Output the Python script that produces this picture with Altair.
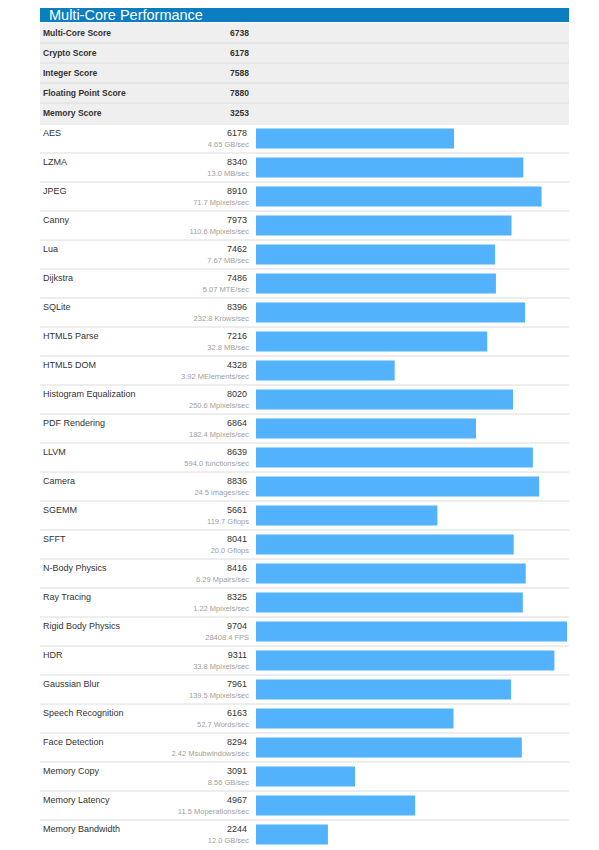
import altair as alt
import pandas as pd

TITLE = "Multi-Core Performance"

summary_names = ["Multi-Core Score", "Crypto Score", "Integer Score",
                 "Floating Point Score", "Memory Score"]
summary_scores = [6738, 6178, 7588, 7880, 3253]

bench_names = ["AES", "LZMA", "JPEG", "Canny", "Lua", "Dijkstra", "SQLite",
               "HTML5 Parse", "HTML5 DOM", "Histogram Equalization",
               "PDF Rendering", "LLVM", "Camera", "SGEMM", "SFFT",
               "N-Body Physics", "Ray Tracing", "Rigid Body Physics", "HDR",
               "Gaussian Blur", "Speech Recognition", "Face Detection",
               "Memory Copy", "Memory Latency", "Memory Bandwidth"]
bench_scores = [6178, 8340, 8910, 7973, 7462, 7486, 8396, 7216, 4328, 8020,
                6864, 8639, 8836, 5661, 8041, 8416, 8325, 9704, 9311, 7961,
                6163, 8294, 3091, 4967, 2244]
bench_rates = ["4.65 GB/sec", "13.0 MB/sec", "71.7 Mpixels/sec",
               "110.6 Mpixels/sec", "7.67 MB/sec", "5.07 MTE/sec",
               "232.8 Krows/sec", "32.8 MB/sec", "3.92 MElements/sec",
               "250.6 Mpixels/sec", "182.4 Mpixels/sec",
               "594.0 functions/sec", "24.5 images/sec", "119.7 Gflops",
               "20.0 Gflops", "6.29 Mpairs/sec", "1.22 Mpixels/sec",
               "28408.4 FPS", "33.8 Mpixels/sec", "139.5 Mpixels/sec",
               "52.7 Words/sec", "2.42 Msubwindows/sec", "8.56 GB/sec",
               "11.5 Moperations/sec", "12.0 GB/sec"]

W = 529
FONT = "Liberation Sans"
HEADER_BLUE = "#0b7ec1"
BAR_BLUE = "#52b2fc"
SEP = "#dcdcdc"

summary_df = pd.DataFrame({"name": summary_names, "score": summary_scores,
                           "idx": list(range(len(summary_names)))})
bench_df = pd.DataFrame({"name": bench_names, "score": bench_scores,
                         "rate": bench_rates})
title_df = pd.DataFrame({"t": [TITLE]})

band = alt.Scale(type="band", paddingInner=0, paddingOuter=0)


def yb(pos=None):
    if pos is None:
        return alt.Y("name:N", sort=None, axis=None, scale=band)
    return alt.Y("name:N", sort=None, axis=None, scale=band, bandPosition=pos)


# Header
header = alt.Chart(title_df).mark_text(
    align="left", baseline="alphabetic", font=FONT, fontSize=14.5,
    color="white"
).encode(
    x=alt.value(9), y=alt.value(12), text="t:N"
).properties(width=W, height=14,
             view=alt.ViewBackground(fill=HEADER_BLUE, stroke=None))

# Summary rows
s_bg = alt.Chart(summary_df).mark_rect(color="#efefef").encode(
    y=yb(), x=alt.value(0), x2=alt.value(W))
s_sep = alt.Chart(summary_df).transform_filter("datum.idx > 0").mark_rule(
    color=SEP, strokeWidth=1
).encode(y=yb(0), x=alt.value(0), x2=alt.value(W))
s_label = alt.Chart(summary_df).mark_text(
    align="left", baseline="alphabetic", dy=13, font=FONT, fontSize=8.5,
    fontWeight="bold", color="#333333"
).encode(y=yb(0), x=alt.value(3), text="name:N")
s_score = alt.Chart(summary_df).mark_text(
    align="right", baseline="alphabetic", dy=13, font=FONT, fontSize=8.5,
    fontWeight="bold", color="#333333"
).encode(y=yb(0), x=alt.value(209), text="score:Q")
summary = alt.layer(s_bg, s_sep, s_label, s_score).properties(
    width=W, height=20 * len(summary_names))

# Benchmark rows
b_sep = alt.Chart(bench_df).mark_rule(color=SEP, strokeWidth=1).encode(
    y=yb(0), x=alt.value(0), x2=alt.value(W))
b_bar = alt.Chart(bench_df).mark_bar(size=20, color=BAR_BLUE).encode(
    y=yb(),
    x=alt.X("score:Q", axis=None,
            scale=alt.Scale(domain=[0, 9704], range=[216, 527], nice=False,
                            zero=True)))
b_label = alt.Chart(bench_df).mark_text(
    align="left", baseline="alphabetic", dy=12, font=FONT, fontSize=9,
    color="#333333"
).encode(y=yb(0), x=alt.value(3), text="name:N")
b_score = alt.Chart(bench_df).mark_text(
    align="right", baseline="alphabetic", dy=12, font=FONT, fontSize=9,
    color="#333333"
).encode(y=yb(0), x=alt.value(207), text="score:Q")
b_rate = alt.Chart(bench_df).mark_text(
    align="right", baseline="alphabetic", dy=22.5, font=FONT, fontSize=7.5,
    color="#a0a0a0"
).encode(y=yb(0), x=alt.value(209), text="rate:N")
bench = alt.layer(b_sep, b_bar, b_label, b_score, b_rate).properties(
    width=W, height=29 * len(bench_names))

chart = alt.vconcat(header, summary, bench, spacing=0).properties(
    padding={"left": 31, "top": 0, "right": 0, "bottom": 0},
    background="white"
).configure_view(stroke=None)

chart.save("out.html", embed_options={"renderer": "svg", "actions": False})
